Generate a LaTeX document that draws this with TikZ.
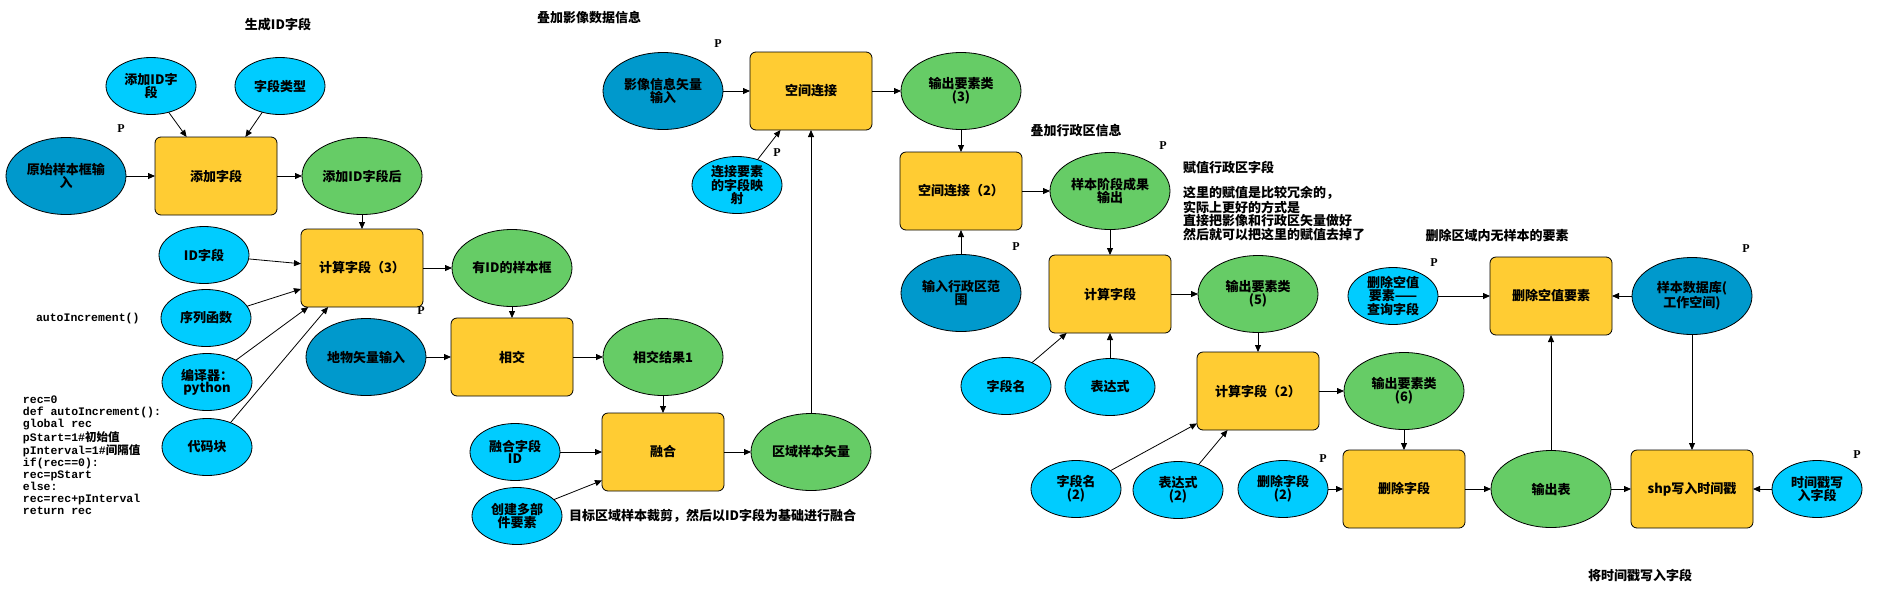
\documentclass[tikz,border=0pt]{standalone}
\usepackage{fontspec}
\usepackage{xcolor}
\usepackage{tikz}
\usetikzlibrary{shapes.geometric,arrows.meta}
\setmainfont{Noto Sans CJK SC}
\newfontfamily\serifbold{Liberation Serif}
\newfontfamily\codefont{Liberation Mono}
\newfontfamily\cjkfont{Noto Sans CJK SC}
\definecolor{toolyellow}{RGB}{255,204,51}
\definecolor{outgreen}{RGB}{102,204,102}
\definecolor{paramblue}{RGB}{0,204,255}
\definecolor{inputblue}{RGB}{0,153,204}

\begin{document}
\begin{tikzpicture}[x=1pt, y=-1pt, line width=0.8pt,
                font=\fontsize{13}{11.7}\selectfont\bfseries,
                every node/.style={inner sep=0pt, outer sep=0pt, align=center},
                tool/.style={draw, fill=toolyellow, rounded corners=6pt, minimum width=122pt, minimum height=78pt},
                bigdata/.style={draw, ellipse, minimum width=120pt, minimum height=77pt},
                indata/.style={bigdata, fill=inputblue},
                outdata/.style={bigdata, fill=outgreen},
                param/.style={draw, ellipse, fill=paramblue, minimum width=90pt, minimum height=57pt},
                ptag/.style={font=\fontsize{12}{12}\serifbold\bfseries},
                flow/.style={-{Triangle[length=7pt, width=6pt]}}]
                \useasboundingbox (0, 0) rectangle (1877, 598);

                \node (gentitle) at (278, 25) {生成ID字段};
                \node (imgtitle) at (589, 18) {叠加影像数据信息};
                \node (admtitle) at (1076, 131) {叠加行政区信息};
                \node (deltitle) at (1497, 236) {删除区域内无样本的要素};
                \node (stamptitle) at (1640, 575) {将时间戳写入字段};
                \node[anchor=west] (dissnote) at (569, 516) {目标区域样本裁剪，然后以ID字段为基础进行融合};
                \node[anchor=north west, align=left] (assignnote) at (1183, 161) {赋值行政区字段\\[12pt]这里的赋值是比较冗余的，\\实际上更好的方式是\\直接把影像和行政区矢量做好\\然后就可以把这里的赋值去掉了};
                \node[anchor=west, font=\fontsize{11.5}{12.1}\codefont\bfseries] (autoinc) at (36, 319) {autoIncrement()};
                \node[anchor=north west, align=left, font=\fontsize{11.5}{12.1}\codefont\bfseries] (code) at (23, 396) {rec=0\\def autoIncrement():\\global rec\\pStart=1\#{\cjkfont 初始值}\\pInterval=1\#{\cjkfont 间隔值}\\if(rec==0):\\rec=pStart\\else:\\rec=rec+pInterval\\return rec};

                \node[param] (addidname) at (151, 86) {添加ID字\\段};
                \node[param] (fieldtype) at (280, 86) {字段类型};
                \node[indata] (rawinput) at (66, 176) {原始样本框输\\入};
                \node[tool] (addfield) at (216, 176) {添加字段};
                \node[outdata] (addidout) at (362, 176) {添加ID字段后};
                \node[tool] (calcthree) at (362, 268) {计算字段（3）};
                \node[param] (idfield) at (204, 255) {ID字段};
                \node[param] (seqfunc) at (206, 318) {序列函数};
                \node[param] (parser) at (207, 382) {编译器：\\python};
                \node[param] (codeblock) at (207, 447) {代码块};
                \node[outdata] (hasid) at (512, 268) {有ID的样本框};
                \node[indata] (landinput) at (366, 357) {地物矢量输入};
                \node[tool] (intersect) at (512, 357) {相交};
                \node[outdata] (interout) at (663, 357) {相交结果1};
                \node[param] (dissfield) at (515, 452) {融合字段\\ID};
                \node[param] (multipart) at (517, 516) {创建多部\\件要素};
                \node[tool] (dissolve) at (663, 452) {融合};
                \node[outdata] (regionout) at (811, 452) {区域样本矢量};

                \node[indata] (imageinput) at (663, 91) {影像信息矢量\\输入};
                \node[tool] (spjoin) at (811, 91) {空间连接};
                \node[param] (joinmap) at (737, 185) {连接要素\\的字段映\\射};
                \node[outdata] (joinout) at (961, 91) {输出要素类\\(3)};
                \node[tool] (spjointwo) at (961, 191) {空间连接（2）};
                \node[indata] (adminput) at (961, 293) {输入行政区范\\围};
                \node[outdata] (stageout) at (1110, 191) {样本阶段成果\\输出};
                \node[tool] (calcfield) at (1110, 294) {计算字段};
                \node[outdata] (outfive) at (1258, 294) {输出要素类\\(5)};
                \node[param] (fieldname) at (1006, 386) {字段名};
                \node[param] (expr) at (1110, 387) {表达式};
                \node[tool] (calctwo) at (1258, 391) {计算字段（2）};
                \node[outdata] (outsix) at (1404, 391) {输出要素类\\(6)};
                \node[param] (fieldnametwo) at (1076, 489) {字段名\\(2)};
                \node[param] (exprtwo) at (1178, 490) {表达式\\(2)};
                \node[param] (delfieldtwo) at (1283, 489) {删除字段\\(2)};
                \node[tool] (delfield) at (1404, 489) {删除字段};

                \node[param] (nullquery) at (1393, 296) {删除空值\\要素——\\查询字段};
                \node[tool] (delnull) at (1551, 296) {删除空值要素};
                \node[indata] (sampledb) at (1692, 296) {样本数据库(\\工作空间)};
                \node[outdata] (outtable) at (1551, 489) {输出表};
                \node[tool] (shpstamp) at (1692, 489) {shp写入时间戳};
                \node[param] (stampfield) at (1817, 489) {时间戳写\\入字段};

                \node[ptag] (prawinput) at (121, 129) {P};
                \node[ptag] (pcalcthree) at (421, 311) {P};
                \node[ptag] (pimageinput) at (718, 44) {P};
                \node[ptag] (pjoinmap) at (777, 153) {P};
                \node[ptag] (pstageout) at (1163, 146) {P};
                \node[ptag] (padminput) at (1016, 247) {P};
                \node[ptag] (pnullquery) at (1434, 263) {P};
                \node[ptag] (psampledb) at (1746, 249) {P};
                \node[ptag] (pdelfieldtwo) at (1323, 459) {P};
                \node[ptag] (pstampfield) at (1857, 455) {P};

                \draw[flow] (addidname.-56) -- (addfield.127);
                \draw[flow] (fieldtype.-124) -- (addfield.53);
                \draw[flow] (rawinput) -- (addfield);
                \draw[flow] (addfield) -- (addidout);
                \draw[flow] (addidout) -- (calcthree);
                \draw[flow] (idfield.-5) -- (calcthree.176);
                \draw[flow] (seqfunc.16) -- (calcthree.-161);
                \draw[flow] (parser.37) -- (calcthree.-144);
                \draw[flow] (codeblock.46) -- (calcthree.-131);
                \draw[flow] (calcthree) -- (hasid);
                \draw[flow] (hasid) -- (intersect);
                \draw[flow] (landinput) -- (intersect);
                \draw[flow] (intersect) -- (interout);
                \draw[flow] (interout) -- (dissolve);
                \draw[flow] (dissfield) -- (dissolve);
                \draw[flow] (multipart.24) -- (dissolve.-155);
                \draw[flow] (dissolve) -- (regionout);
                \draw[flow] (regionout) -- (spjoin);

                \draw[flow] (imageinput) -- (spjoin);
                \draw[flow] (joinmap.51) -- (spjoin.-128);
                \draw[flow] (spjoin) -- (joinout);
                \draw[flow] (joinout) -- (spjointwo);
                \draw[flow] (adminput) -- (spjointwo);
                \draw[flow] (spjointwo) -- (stageout);
                \draw[flow] (stageout) -- (calcfield);
                \draw[flow] (fieldname.42) -- (calcfield.-138);
                \draw[flow] (expr) -- (calcfield);
                \draw[flow] (calcfield) -- (outfive);
                \draw[flow] (outfive) -- (calctwo);
                \draw[flow] (fieldnametwo.28) -- (calctwo.-152);
                \draw[flow] (exprtwo.51) -- (calctwo.-128);
                \draw[flow] (calctwo) -- (outsix);
                \draw[flow] (outsix) -- (delfield);
                \draw[flow] (delfieldtwo) -- (delfield);
                \draw[flow] (delfield) -- (outtable);

                \draw[flow] (nullquery) -- (delnull);
                \draw[flow] (sampledb) -- (delnull);
                \draw[flow] (outtable) -- (delnull);
                \draw[flow] (outtable) -- (shpstamp);
                \draw[flow] (sampledb) -- (shpstamp);
                \draw[flow] (stampfield) -- (shpstamp);
            \end{tikzpicture}
\end{document}
